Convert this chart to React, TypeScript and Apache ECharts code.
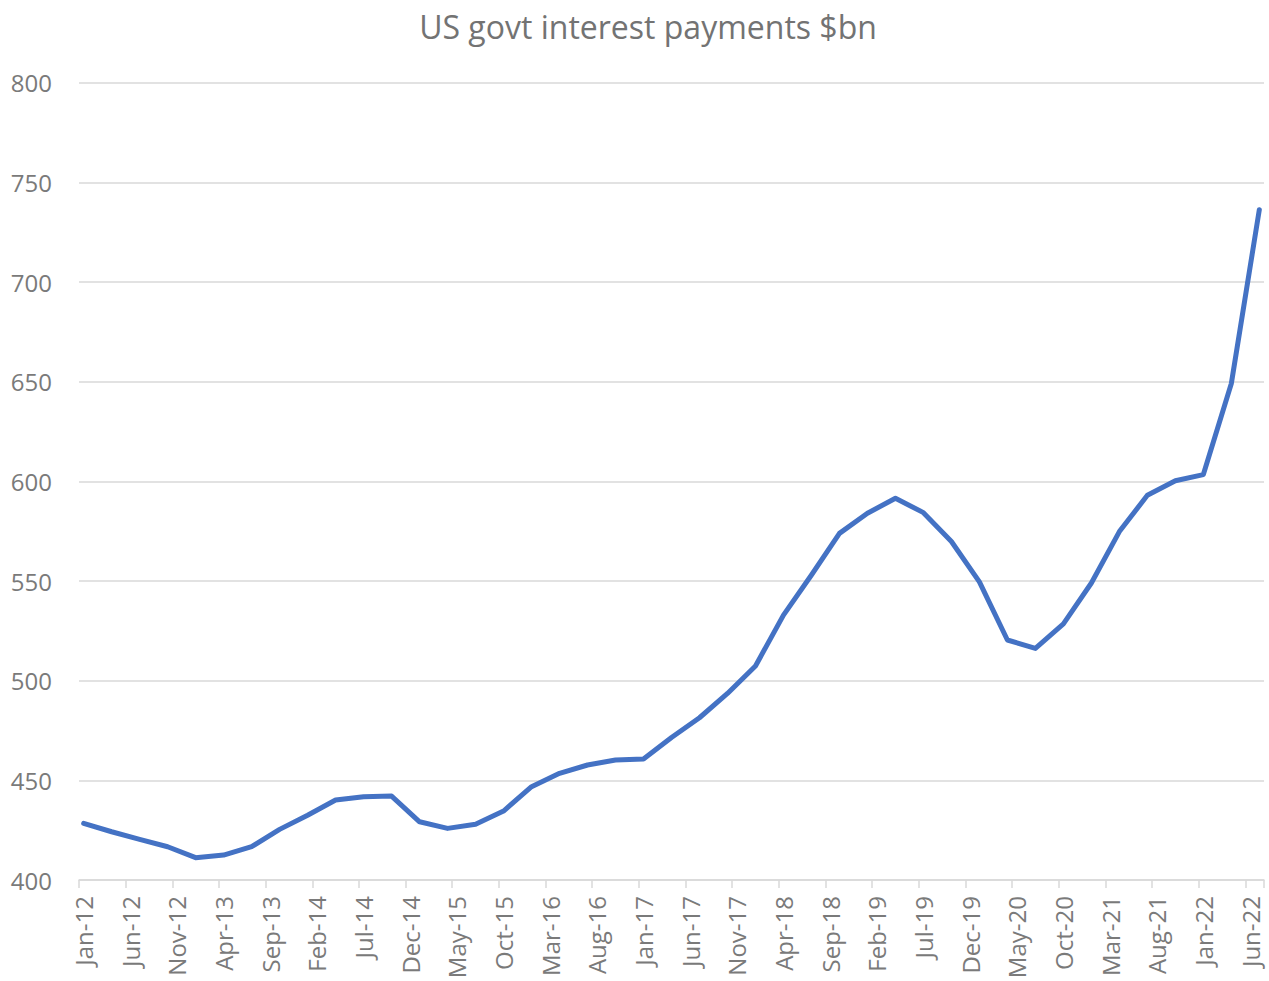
import React, { useEffect, useRef } from "react";
import * as echarts from "echarts";

const MONTH_NAMES = ["Jan", "Feb", "Mar", "Apr", "May", "Jun", "Jul", "Aug", "Sep", "Oct", "Nov", "Dec"];
const START_YEAR = 2012;
const MONTH_COUNT = 127; // Jan-12 .. Jul-22
const QUARTER_STEP = 3;

// Quarterly values, Jan-12, Apr-12, Jul-12, Oct-12, ... Jul-22 ($bn)
const quarterlyValues = [
  428.4, 424.2, 420.4, 416.7,
  411.2, 412.5, 416.7, 425.4,
  432.5, 440.1, 441.8, 442.1,
  429.2, 425.9, 428.0, 434.6,
  446.8, 453.5, 457.7, 460.2,
  460.7, 471.5, 481.4, 493.6,
  507.4, 532.9, 553.0, 573.9,
  584.0, 591.5, 584.3, 569.8,
  549.6, 520.4, 516.2, 528.5,
  549.0, 574.8, 593.0, 600.3,
  603.4, 649.1, 736.3,
];

const categories: string[] = [];
for (let i = 0; i < MONTH_COUNT; i++) {
  const y = START_YEAR + Math.floor(i / 12);
  categories.push(`${MONTH_NAMES[i % 12]}-${String(y).slice(2)}`);
}

const seriesData: (number | null)[] = categories.map((_, i) =>
  i % QUARTER_STEP === 0 ? quarterlyValues[i / QUARTER_STEP] ?? null : null
);

const FONT = "'Open Sans', 'Noto Sans', sans-serif";
const TEXT_COLOR = "#7a7a7a";

export default function App() {
  const ref = useRef<HTMLDivElement>(null);
  useEffect(() => {
    if (!ref.current) return;
    const chart = echarts.init(ref.current, undefined, { renderer: "svg" });
    chart.setOption({
      animation: false,
      backgroundColor: "#ffffff",
      title: {
        text: "US govt interest payments $bn",
        left: 643,
        top: 5,
        textAlign: "center",
        textStyle: {
          fontFamily: FONT,
          fontSize: 32,
          fontWeight: "normal",
          color: "#737373",
        },
      },
      grid: {
        left: 79,
        right: 5,
        top: 82.7,
        bottom: 101,
        containLabel: false,
        outerBoundsMode: "none",
      },
      xAxis: {
        type: "category",
        data: categories,
        boundaryGap: true,
        axisLine: { show: true, lineStyle: { color: "#d9d9d9", width: 1.5 } },
        axisTick: {
          show: true,
          interval: 4,
          length: 8,
          lineStyle: { color: "#d9d9d9", width: 1.5 },
        },
        axisLabel: {
          interval: 4,
          rotate: 90,
          margin: 16,
          fontFamily: FONT,
          fontSize: 24,
          color: TEXT_COLOR,
        },
        splitLine: { show: false },
      },
      yAxis: {
        type: "value",
        min: 400,
        max: 800,
        interval: 50,
        axisLine: { show: false },
        axisTick: { show: false },
        axisLabel: {
          margin: 27,
          fontFamily: FONT,
          fontSize: 24,
          color: TEXT_COLOR,
        },
        splitLine: { show: true, lineStyle: { color: "#d9d9d9", width: 1.5 } },
      },
      series: [
        {
          type: "line",
          data: seriesData,
          connectNulls: true,
          showSymbol: false,
          symbol: "none",
          lineStyle: { color: "#4472c4", width: 5, cap: "round", join: "round" },
          itemStyle: { color: "#4472c4" },
        },
      ],
    });
    return () => chart.dispose();
  }, []);
  return (
    <div
      ref={ref}
      style={{ position: "absolute", left: 0, top: 0, width: 1269, height: 981 }}
    />
  );
}
